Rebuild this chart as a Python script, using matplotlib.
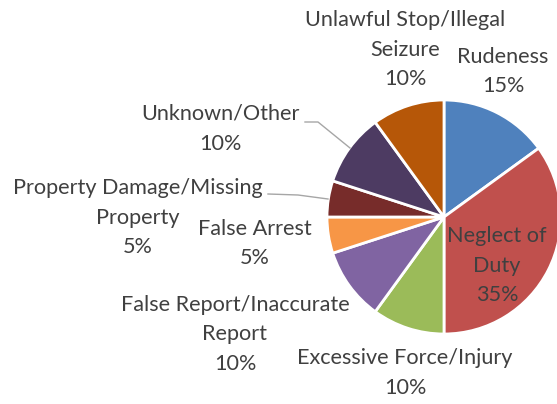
import numpy as np
import matplotlib.pyplot as plt

labels = ['Rudeness', 'Neglect of\nDuty', 'Excessive Force/Injury', 'False Report/Inaccurate\nReport',
          'False Arrest', 'Property Damage/Missing\nProperty', 'Unknown/Other', 'Unlawful Stop/Illegal\nSeizure']
values = [15, 35, 10, 10, 5, 5, 10, 10]
colors = ['#4F81BD', '#C0504D', '#9BBB59', '#8064A2', '#F79646', '#772C2A', '#4D3B62', '#B65708']

# centre of the first text line of each label, in pixels
label_pos = [(503, 57), (497, 236), (405, 358), (235, 305), (255, 229), (138, 188), (220, 114), (405, 20)]

W, H = 557, 404
cx, cy, r = 444, 217, 117
pitch = 29.5

fig = plt.figure(figsize=(W / 100, H / 100), dpi=100)
ax = fig.add_axes([(cx - r) / W, (H - cy - r) / H, 2 * r / W, 2 * r / H])
ax.pie(values, colors=colors, startangle=90, counterclock=False, radius=1,
       wedgeprops=dict(edgecolor='white', linewidth=2))
ax.set_xlim(-1, 1)
ax.set_ylim(-1, 1)
ax.set_aspect('auto')
ax.axis('off')

def to_data(px, py):
    return (px - cx) / r, (cy - py) / r

for lab, v, (px, py) in zip(labels, values, label_pos):
    lines = lab.split('\n') + [f'{v}%']
    for i, line in enumerate(lines):
        x, y = to_data(px, py + i * pitch)
        ax.text(x, y, line, ha='center', va='center', fontsize=15.6,
                family='Lato', color='#404040', clip_on=False)

# leader lines
leaders = [[(305, 122), (318, 122), (350, 148)],
           [(268, 194), (298, 195), (328, 199)]]
for pts in leaders:
    xs, ys = zip(*[to_data(*p) for p in pts])
    ax.plot(xs, ys, color='#A6A6A6', lw=1, clip_on=False)

fig.savefig('out.png', dpi=100)
